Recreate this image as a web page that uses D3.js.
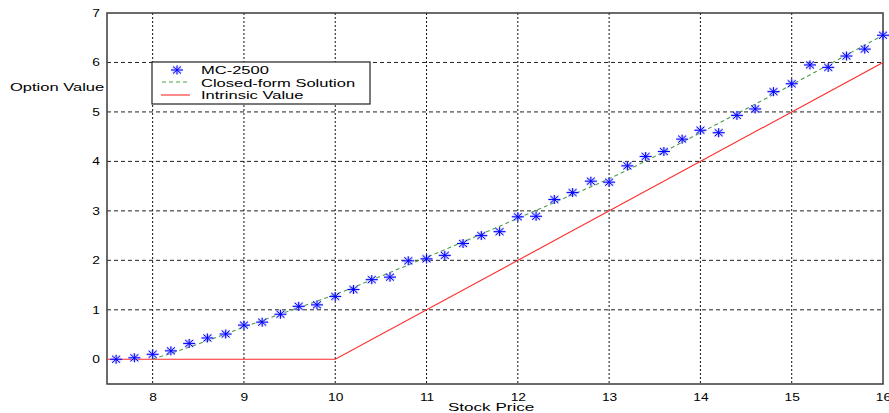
<!DOCTYPE html>
<html>
<head>
<meta charset="utf-8">
<script src="https://cdn.jsdelivr.net/npm/d3@7"></script>
<style>
  body { margin: 0; background: #fff; }
  svg text { font-family: "Liberation Sans", Arial, sans-serif; fill: #000; }
</style>
</head>
<body>
<svg id="chart" width="889" height="413"></svg>
<script>
// stock prices sampled by the Monte Carlo run
const mcPrices = [7.6, 7.8, 8.0, 8.2, 8.4, 8.6, 8.8, 9.0, 9.2, 9.4, 9.6, 9.8,
  10.0, 10.2, 10.4, 10.6, 10.8, 11.0, 11.2, 11.4, 11.6, 11.8, 12.0, 12.2, 12.4,
  12.6, 12.8, 13.0, 13.2, 13.4, 13.6, 13.8, 14.0, 14.2, 14.4, 14.6, 14.8, 15.0,
  15.2, 15.4, 15.6, 15.8, 16.0];
const mcValues = [0.0, 0.03, 0.1, 0.17, 0.32, 0.43, 0.51, 0.69, 0.75, 0.91, 1.07, 1.1,
  1.27, 1.41, 1.61, 1.66, 1.99, 2.03, 2.1, 2.34, 2.5, 2.58, 2.88, 2.89, 3.23,
  3.37, 3.6, 3.58, 3.91, 4.1, 4.2, 4.45, 4.63, 4.58, 4.93, 5.06, 5.41, 5.57,
  5.95, 5.9, 6.13, 6.27, 6.55];

const cfPrices = [8, 8.5, 9, 9.5, 10, 10.5, 11, 11.5, 12, 12.5, 13, 13.5, 14, 14.5, 15, 15.5, 16];
const cfValues = [0, 0.31, 0.65, 0.98, 1.31, 1.68, 2.06, 2.45, 2.85, 3.25, 3.65, 4.1, 4.58, 5.06, 5.55, 6.05, 6.55];

const ivPrices = [7.5, 10, 16];
const ivValues = [0, 0, 6];

const xTicks = [8, 9, 10, 11, 12, 13, 14, 15, 16];
const yTicks = [0, 1, 2, 3, 4, 5, 6, 7];
const legendLabels = ['MC-2500', 'Closed-form Solution', 'Intrinsic Value'];

const plot = { left: 107, right: 883, top: 13, bottom: 384 };

const svg = d3.select('#chart');

const x = d3.scaleLinear().domain([7.5, 16]).range([plot.left, plot.right]);
const y = d3.scaleLinear().domain([-0.5, 7]).range([plot.bottom, plot.top]);

// widen text to match the stretched reference
const widen = (sel, k) => sel.each(function () {
  const w = this.getComputedTextLength();
  d3.select(this).attr('textLength', w * k).attr('lengthAdjust', 'spacingAndGlyphs');
});

// grid
svg.append('g')
  .selectAll('line')
  .data(yTicks.filter(d => d > 0 && d < 7))
  .enter().append('line')
  .attr('x1', plot.left).attr('x2', plot.right)
  .attr('y1', d => y(d)).attr('y2', d => y(d))
  .style('stroke', '#222')
  .style('stroke-width', 1)
  .style('stroke-dasharray', '4,3');
svg.append('g')
  .selectAll('line')
  .data(xTicks.filter(d => d < 16))
  .enter().append('line')
  .attr('x1', d => x(d)).attr('x2', d => x(d))
  .attr('y1', plot.top).attr('y2', plot.bottom)
  .style('stroke', '#111')
  .style('stroke-width', 1)
  .style('stroke-dasharray', '2,2');

// axes (labels only, box drawn below)
const xAxis = d3.axisBottom(x).tickValues(xTicks).tickSize(0).tickPadding(9).tickFormat(d3.format('d'));
const yAxis = d3.axisLeft(y).tickValues(yTicks).tickSize(0).tickPadding(7).tickFormat(d3.format('d'));

const gX = svg.append('g').attr('transform', `translate(0,${plot.bottom})`).call(xAxis);
const gY = svg.append('g').attr('transform', `translate(${plot.left},0)`).call(yAxis);
[gX, gY].forEach(g => {
  g.select('.domain').remove();
  g.selectAll('text').style('font-size', '11px').style('font-family', '"Liberation Sans", Arial, sans-serif');
  widen(g.selectAll('text'), 1.25);
});

// box
svg.append('rect')
  .attr('x', plot.left).attr('y', plot.top)
  .attr('width', plot.right - plot.left).attr('height', plot.bottom - plot.top)
  .style('fill', 'none')
  .style('stroke', '#3a3a3a')
  .style('stroke-width', 1.5);

const line = d3.line().x(d => x(d[0])).y(d => y(d[1]));

// intrinsic value
svg.append('path')
  .datum(ivPrices.map((p, i) => [p, ivValues[i]]))
  .attr('d', line)
  .style('fill', 'none')
  .style('stroke', '#ff2a2a')
  .style('stroke-width', 1.1);

// closed-form
svg.append('path')
  .datum(cfPrices.map((p, i) => [p, cfValues[i]]))
  .attr('d', d3.line().curve(d3.curveMonotoneX).x(d => x(d[0])).y(d => y(d[1])))
  .style('fill', 'none')
  .style('stroke', '#4a9e4a')
  .style('stroke-width', 1.1)
  .style('stroke-dasharray', '4,3');

// asterisk marker
const starPath = 'M-6,0L6,0M0,-4.5L0,4.5M-4,-3.5L4,3.5M-4,3.5L4,-3.5';
const drawStar = (g) => {
  g.append('path').attr('d', starPath)
    .style('stroke', '#9a9aff').style('stroke-width', 2.6).style('opacity', 0.45).style('fill', 'none');
  g.append('path').attr('d', starPath)
    .style('stroke', '#0000ff').style('stroke-width', 1).style('fill', 'none');
};

svg.append('g')
  .selectAll('g')
  .data(mcPrices.map((p, i) => [p, mcValues[i]]))
  .enter().append('g')
  .attr('transform', d => `translate(${x(d[0])},${y(d[1])})`)
  .each(function () { drawStar(d3.select(this)); });

// legend
const legend = svg.append('g');
legend.append('rect')
  .attr('x', 152).attr('y', 62).attr('width', 218).attr('height', 42)
  .style('fill', '#fff').style('stroke', '#222').style('stroke-width', 1.2);
drawStar(legend.append('g').attr('transform', 'translate(177,70)'));
legend.append('line')
  .attr('x1', 162).attr('x2', 188).attr('y1', 82).attr('y2', 82)
  .style('stroke', '#4a9e4a').style('stroke-width', 1.1).style('stroke-dasharray', '4,3');
legend.append('line')
  .attr('x1', 161).attr('x2', 190).attr('y1', 95).attr('y2', 95)
  .style('stroke', '#ff2a2a').style('stroke-width', 1.1);
const legendText = legend.selectAll('text.lab')
  .data(legendLabels)
  .enter().append('text')
  .attr('class', 'lab')
  .attr('x', 201)
  .attr('y', (d, i) => 74 + i * 12.7)
  .style('font-size', '11px')
  .text(d => d);
widen(legendText, 1.5);

// axis titles
const yTitle = svg.append('text').attr('x', 10).attr('y', 91).style('font-size', '11px').text('Option Value');
const xTitle = svg.append('text').attr('x', 448).attr('y', 411).style('font-size', '11px').text('Stock Price');
widen(yTitle, 1.5);
widen(xTitle, 1.55);
</script>
</body>
</html>
